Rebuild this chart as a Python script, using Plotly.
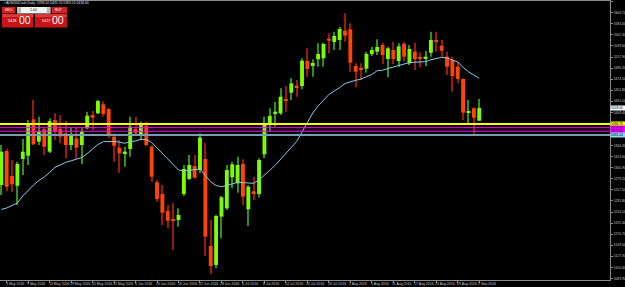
import numpy as np
import pandas as pd
import plotly.graph_objects as go

# ---------------- data ----------------
dates = pd.bdate_range("2016-05-02", "2016-09-02").strftime("%Y-%m-%d").tolist()

open_ = [5267.1, 5333.7, 5284.7, 5265.7, 5318.1, 5324.5, 5395.9, 5352.0, 5376.2, 5332.4,
         5394.5, 5376.9, 5368.4, 5345.5, 5358.6, 5345.5, 5378.2, 5404.3, 5407.6, 5425.3,
         5416.0, 5361.8, 5340.2, 5329.0, 5337.7, 5376.9, 5363.7, 5383.3, 5342.2, 5272.4,
         5249.5, 5216.1, 5200.5, 5198.5, 5249.5, 5278.9, 5304.3, 5296.5, 5318.1, 5147.5,
         5110.3, 5205.0, 5221.4, 5282.2, 5270.4, 5308.3, 5219.5, 5254.7, 5249.5, 5327.3,
         5384.7, 5406.3, 5407.6, 5435.0, 5448.0, 5461.8, 5461.1, 5510.1, 5500.3, 5513.5,
         5515.4, 5553.9, 5547.4, 5551.3, 5569.6, 5572.3, 5500.3, 5497.0, 5495.0, 5523.9,
         5528.4, 5541.5, 5514.1, 5531.7, 5510.1, 5543.5, 5505.6, 5528.4, 5517.4, 5514.1,
         5526.4, 5550.0, 5540.1, 5518.6, 5512.1, 5499.0, 5474.9, 5410.0, 5417.4, 5393.1]
high = [5345.5, 5338.0, 5316.0, 5312.8, 5357.3, 5394.5, 5433.7, 5401.0, 5381.4, 5398.0,
        5407.6, 5404.3, 5393.1, 5380.2, 5379.4, 5378.2, 5410.8, 5412.1, 5433.7, 5431.0,
        5417.4, 5368.4, 5355.3, 5342.2, 5401.0, 5401.0, 5391.0, 5391.2, 5345.5, 5276.9,
        5267.1, 5227.9, 5231.2, 5221.4, 5306.3, 5325.9, 5325.9, 5368.4, 5350.0, 5198.5,
        5208.3, 5245.5, 5306.3, 5312.8, 5322.6, 5317.5, 5267.1, 5283.4, 5319.4, 5401.0,
        5417.4, 5430.4, 5456.6, 5461.1, 5476.2, 5472.9, 5515.4, 5535.0, 5513.5, 5544.8,
        5546.0, 5564.4, 5567.6, 5577.4, 5603.6, 5584.0, 5505.6, 5505.6, 5528.4, 5538.0,
        5552.7, 5546.0, 5538.2, 5548.0, 5544.8, 5548.0, 5541.5, 5546.0, 5527.2, 5529.7,
        5567.6, 5567.6, 5551.3, 5528.4, 5518.6, 5508.8, 5476.2, 5433.7, 5419.4, 5435.7]
low = [5247.5, 5255.0, 5254.0, 5227.9, 5286.7, 5306.3, 5345.5, 5345.5, 5325.9, 5330.0,
       5355.3, 5348.8, 5319.4, 5335.7, 5319.4, 5308.3, 5376.2, 5374.9, 5406.0, 5401.0,
       5358.6, 5312.8, 5291.2, 5303.0, 5322.6, 5365.1, 5355.0, 5343.5, 5273.6, 5234.4,
       5188.7, 5182.2, 5139.7, 5185.4, 5245.5, 5276.9, 5280.0, 5290.0, 5128.0, 5092.7,
       5103.8, 5162.6, 5218.0, 5260.6, 5252.0, 5227.9, 5186.7, 5237.7, 5243.0, 5319.4,
       5371.6, 5381.4, 5404.3, 5410.8, 5433.7, 5440.2, 5454.7, 5479.4, 5479.4, 5499.0,
       5499.0, 5525.2, 5531.7, 5531.7, 5548.0, 5489.2, 5458.6, 5472.9, 5487.2, 5520.0,
       5521.9, 5504.3, 5478.2, 5503.7, 5499.0, 5509.0, 5502.3, 5492.5, 5497.8, 5500.3,
       5518.6, 5528.4, 5518.6, 5482.7, 5450.0, 5466.4, 5394.5, 5386.7, 5365.1, 5393.1]
close = [5332.4, 5263.8, 5268.4, 5308.3, 5332.4, 5388.0, 5346.9, 5371.6, 5342.2, 5392.5,
         5372.9, 5361.8, 5345.5, 5365.1, 5340.2, 5371.6, 5402.9, 5399.0, 5431.7, 5406.3,
         5366.5, 5344.1, 5329.2, 5332.4, 5381.4, 5368.4, 5386.1, 5345.5, 5283.4, 5239.7,
         5212.8, 5197.1, 5197.1, 5208.3, 5298.5, 5306.3, 5281.4, 5359.9, 5165.8, 5108.3,
         5206.3, 5243.0, 5296.5, 5307.7, 5306.3, 5244.2, 5263.8, 5250.8, 5316.1, 5386.0,
         5402.3, 5410.8, 5440.2, 5432.0, 5466.4, 5458.6, 5510.7, 5494.5, 5506.2, 5523.9,
         5543.5, 5549.9, 5559.1, 5572.9, 5559.7, 5506.8, 5489.2, 5492.5, 5523.9, 5531.7,
         5537.6, 5521.9, 5535.0, 5514.1, 5538.9, 5518.6, 5533.7, 5513.5, 5514.7, 5518.6,
         5551.3, 5548.0, 5530.3, 5499.0, 5480.7, 5474.9, 5408.8, 5411.9, 5399.0, 5418.0]
ma = [5219.1, 5222.0, 5226.9, 5231.8, 5245.5, 5257.3, 5267.1, 5275.9, 5282.8, 5291.6,
      5301.8, 5306.3, 5311.6, 5314.5, 5318.1, 5321.0, 5328.8, 5337.7, 5346.5, 5352.0,
      5352.8, 5352.4, 5351.0, 5348.8, 5352.0, 5353.3, 5356.7, 5356.3, 5350.4, 5339.6,
      5328.8, 5318.1, 5306.3, 5296.5, 5294.5, 5295.9, 5296.5, 5298.5, 5285.7, 5273.6,
      5266.1, 5263.8, 5266.1, 5270.0, 5272.4, 5271.6, 5270.6, 5270.4, 5276.9, 5285.7,
      5295.9, 5305.7, 5317.1, 5327.9, 5339.6, 5352.4, 5371.0, 5390.6, 5408.2, 5422.0,
      5433.7, 5444.3, 5451.5, 5457.8, 5466.0, 5469.6, 5472.3, 5474.7, 5479.4, 5483.7,
      5491.1, 5492.1, 5495.4, 5498.6, 5501.5, 5504.3, 5507.0, 5507.8, 5508.2, 5508.8,
      5512.5, 5515.2, 5517.4, 5516.0, 5512.5, 5508.2, 5497.4, 5489.0, 5482.7, 5476.2]

label_dates = ["2016-05-03", "2016-05-09", "2016-05-13", "2016-05-19", "2016-05-25",
               "2016-05-31", "2016-06-06", "2016-06-10", "2016-06-16", "2016-06-22",
               "2016-06-28", "2016-07-04", "2016-07-08", "2016-07-14", "2016-07-20",
               "2016-07-26", "2016-08-01", "2016-08-05", "2016-08-11", "2016-08-17",
               "2016-08-23", "2016-08-29", "2016-09-02"]
ytick_vals = [5626.40, 5604.70, 5583.00, 5561.30, 5539.60, 5517.90, 5496.20, 5474.50,
              5452.80, 5431.10, 5409.40, 5387.70, 5366.00, 5344.30, 5322.60, 5300.90,
              5279.20, 5257.50, 5235.80, 5214.10, 5192.40, 5170.70, 5149.00, 5127.30,
              5105.60, 5083.90]
hline_prices = [5386.7, 5379.4, 5372.5, 5365.1]
symbol = "AUS200Cash,Daily"
sell_price = "5418"
buy_price = "5417"

# ---------------- styles ----------------
hline_colors = ["#FFFF00", "#FF00FF", "#FF00FF", "#7A9CB0"]
hline_box_colors = ["#FFFF00", "#FF00FF", "#FF00FF", "#8FD6EE"]
hline_widths = [2, 1, 1, 2]

W, H = 625, 287
ML, MR, MT, MB = 0, 15, 1, 7
PW, PH = W - ML - MR, H - MT - MB


def px(x):
    return (x - ML) / PW


def py(y):
    return (MT + PH - y) / PH


o = np.array(open_)
c = np.array(close)
hi = np.array(high)
lo = np.array(low)
up = c >= o
body_base = np.minimum(o, c)
body_h = np.maximum(np.abs(c - o), 1.7)
wick_colors = np.where(up, "#2F8F1F", "#9A1A12").tolist()
body_colors = np.where(up, "#7CFC00", "#FF4500").tolist()

fig = go.Figure()
fig.add_trace(go.Bar(x=dates, base=lo, y=hi - lo, width=0.2,
                     marker=dict(color=wick_colors, line=dict(width=0)),
                     hoverinfo="skip"))
fig.add_trace(go.Bar(x=dates, base=body_base, y=body_h, width=0.72,
                     marker=dict(color=body_colors, line=dict(width=0)),
                     hoverinfo="skip"))
fig.add_trace(go.Scatter(x=dates, y=ma, mode="lines",
                         line=dict(color="#87CEEB", width=1), hoverinfo="skip"))

for p, col, lw in zip(hline_prices, hline_colors, hline_widths):
    fig.add_shape(type="line", xref="paper", x0=0, x1=1, yref="y", y0=p, y1=p,
                  line=dict(color=col, width=lw), layer="above")

annotations = []
axis_col = "#c8c8c8"
for d in label_dates:
    annotations.append(dict(x=d, xref="x", y=py(283.6), yref="paper",
                            text=pd.Timestamp(d).strftime("%-d %b %Y"),
                            xanchor="left", yanchor="middle", xshift=-3,
                            showarrow=False, font=dict(size=3.5, color=axis_col,
                                                       family="Liberation Sans")))

# price boxes on the right axis
for p, bc in zip(hline_prices, hline_box_colors):
    annotations.append(dict(x=1, xref="paper", y=p, yref="y", text=f"{p:.2f}",
                            xanchor="left", yanchor="middle", showarrow=False,
                            bgcolor=bc, borderpad=0, width=14, align="left",
                            font=dict(size=3.3, color="#000000", family="Liberation Sans")))
annotations.append(dict(x=1, xref="paper", y=close[-1], yref="y", text=f"{close[-1]:.2f}",
                        xanchor="left", yanchor="middle", showarrow=False,
                        bgcolor="#FFFFFF", borderpad=0, width=14, align="left",
                        font=dict(size=3.3, color="#000000", family="Liberation Sans")))

# header
annotations.append(dict(x=px(2), xref="paper", y=py(3.3), yref="paper",
                        text=f"▪ {symbol}  {open_[-1]:.2f} {high[-1]:.2f} {low[-1]:.2f} {close[-1]:.2f}",
                        xanchor="left", yanchor="middle", showarrow=False,
                        font=dict(size=3.4, color="#e0e0e0", family="Liberation Sans")))

# one-click trading panel
shapes = []
red_btn = "#D42222"
red_box = "#C81414"
for (x0, x1) in [(2, 15.5), (51.5, 67)]:
    shapes.append(dict(type="rect", xref="paper", yref="paper", x0=px(x0), x1=px(x1),
                       y0=py(13.5), y1=py(7), fillcolor=red_btn, line=dict(width=0), layer="above"))
shapes.append(dict(type="rect", xref="paper", yref="paper", x0=px(17), x1=px(50.5),
                   y0=py(13.5), y1=py(7), fillcolor="#F2F2F2", line=dict(width=0), layer="above"))
for (x0, x1) in [(17.3, 21), (46.8, 50.2)]:
    shapes.append(dict(type="rect", xref="paper", yref="paper", x0=px(x0), x1=px(x1),
                       y0=py(13.2), y1=py(7.3), fillcolor="#B8B8B8", line=dict(width=0), layer="above"))
for (x0, x1) in [(2, 33.5), (35, 67)]:
    shapes.append(dict(type="rect", xref="paper", yref="paper", x0=px(x0), x1=px(x1),
                       y0=py(27.5), y1=py(14.2), fillcolor=red_box, line=dict(width=0), layer="above"))
    shapes.append(dict(type="rect", xref="paper", yref="paper", x0=px(x0), x1=px(x1),
                       y0=py(17), y1=py(14.2), fillcolor="#DC3A3A", line=dict(width=0), layer="above"))

small_font = dict(size=3.3, color="#FFFFFF", family="Liberation Sans")
annotations += [
    dict(x=px(8.7), y=py(10.3), text="SELL", font=small_font),
    dict(x=px(59.2), y=py(10.3), text="BUY", font=small_font),
    dict(x=px(33.8), y=py(10.3), text="1.00", font=dict(size=3.6, color="#202020", family="Liberation Sans")),
    dict(x=px(12.5), y=py(21.5), text=sell_price, font=dict(size=3.8, color="#FFFFFF", family="Liberation Sans")),
    dict(x=px(25), y=py(20), text="00", font=dict(size=10.5, color="#FFFFFF", family="Liberation Sans")),
    dict(x=px(45.5), y=py(21.5), text=buy_price, font=dict(size=3.8, color="#FFFFFF", family="Liberation Sans")),
    dict(x=px(58), y=py(20), text="00", font=dict(size=10.5, color="#FFFFFF", family="Liberation Sans")),
]
for a in annotations[-7:]:
    a.update(xref="paper", yref="paper", showarrow=False, xanchor="center", yanchor="middle")

# tick labels hidden beneath the price boxes are left blank
box_span = (min(hline_prices) - 4, max(hline_prices) + 4)
ytick_text = ["" if box_span[0] <= v <= box_span[1] else f"{v:.2f}" for v in ytick_vals]

fig.update_layout(
    template="none",
    width=W, height=H,
    margin=dict(l=ML, r=MR, t=MT, b=MB, pad=0),
    paper_bgcolor="#000000", plot_bgcolor="#000000",
    showlegend=False, barmode="overlay",
    shapes=list(fig.layout.shapes) + shapes,
    annotations=annotations,
    xaxis=dict(type="category", range=[-0.24, 113.35], showgrid=False, zeroline=False,
               showline=True, mirror=True, linecolor="#8c8c8c", linewidth=1,
               ticks="outside", ticklen=2, tickcolor="#8c8c8c", tickvals=label_dates,
               showticklabels=False, automargin=False, fixedrange=True),
    yaxis=dict(side="right", range=[5080.9, 5627.7], showgrid=False, zeroline=False,
               showline=True, mirror=True, linecolor="#8c8c8c", linewidth=1,
               ticks="outside", ticklen=2, tickcolor="#8c8c8c",
               tickvals=ytick_vals, ticktext=ytick_text,
               tickfont=dict(size=3.3, color=axis_col, family="Liberation Sans"),
               automargin=False, fixedrange=True),
)

fig.write_html("out.html")
